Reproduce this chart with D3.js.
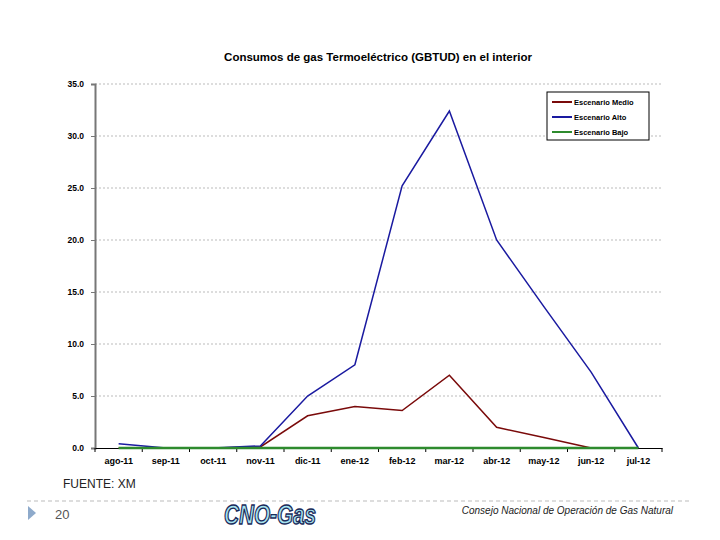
<!DOCTYPE html>
<html><head><meta charset="utf-8">
<script src="https://cdn.jsdelivr.net/npm/d3@7"></script>
<style>body{margin:0;background:#fff;}svg{display:block;}</style>
</head><body>
<svg id="c" width="720" height="540"></svg>
<script>
const categories = ["ago-11","sep-11","oct-11","nov-11","dic-11","ene-12","feb-12","mar-12","abr-12","may-12","jun-12","jul-12"];
const medio = [0, 0, 0, 0.1, 3.1, 4.0, 3.6, 7.0, 2.0, 1.0, 0, null];
const alto  = [0.4, 0, 0, 0.2, 5.0, 8.0, 25.2, 32.4, 20.0, 13.6, 7.3, 0];
const bajo  = [0, 0, 0, 0, 0, 0, 0, 0, 0, 0, 0, 0];
const yTicks = [0, 5, 10, 15, 20, 25, 30, 35];
const seriesNames = ["Escenario Medio","Escenario Alto","Escenario Bajo"];
const seriesColors = ["#7a0a0a","#1a1aa0","#2e8b2e"];

const svg = d3.select("#c");
const L = 95, R = 662, T = 84, B = 448;
const x = d3.scaleBand().domain(categories).range([L, R]);
const y = d3.scaleLinear().domain([0, 35]).range([B, T]);
const FF = "Arial, Liberation Sans, sans-serif";

// title
svg.append("text").attr("x", 378).attr("y", 61).attr("text-anchor", "middle")
  .attr("font-family", FF).attr("font-size", 11.5).attr("font-weight", "bold")
  .text("Consumos de gas Termoeléctrico (GBTUD) en el interior");

// gridlines
svg.append("g").selectAll("line").data(yTicks.filter(d => d > 0)).join("line")
  .attr("x1", L).attr("x2", R).attr("y1", d => y(d)).attr("y2", d => y(d))
  .attr("stroke", "#bbb").attr("stroke-width", 1).attr("stroke-dasharray", "2,2");

// y axis
const ya = svg.append("g").attr("transform", `translate(${L},0)`)
  .call(d3.axisLeft(y).tickValues(yTicks).tickFormat(d3.format(".1f")).tickSize(4));
ya.select(".domain").attr("stroke", "#777").attr("stroke-width", 2);
ya.selectAll(".tick line").attr("stroke", "#777");
ya.selectAll("text").attr("font-family", FF).attr("font-size", 8.5).attr("font-weight", "bold").attr("fill", "#000").attr("x", -11);

// x axis
const xa = svg.append("g").attr("transform", `translate(0,${B})`)
  .call(d3.axisBottom(x).tickSize(0).tickSizeOuter(0));
xa.select(".domain").attr("stroke", "#000");
xa.selectAll("text").attr("font-family", FF).attr("font-size", 9).attr("font-weight", "bold").attr("fill", "#000").attr("dy", "1.45em");
// boundary ticks
svg.append("g").selectAll("line").data(categories.concat(["__end"])).join("line")
  .attr("x1", (d, i) => L + i * x.step()).attr("x2", (d, i) => L + i * x.step())
  .attr("y1", B).attr("y2", B + 4).attr("stroke", "#000");

// lines
const line = d3.line().defined(d => d[1] !== null)
  .x(d => x(d[0]) + x.bandwidth() / 2).y(d => y(d[1]));
const series = [medio, alto, bajo];
const widths = [1.5, 1.5, 2.5];
[0, 1, 2].forEach(i => {
  svg.append("path").datum(categories.map((c, k) => [c, series[i][k]]))
    .attr("d", line).attr("fill", "none").attr("stroke", seriesColors[i]).attr("stroke-width", widths[i]);
});

// legend
const lg = svg.append("g");
lg.append("rect").attr("x", 547).attr("y", 92).attr("width", 102).attr("height", 48)
  .attr("fill", "#fff").attr("stroke", "#000").attr("stroke-width", 1);
seriesNames.forEach((n, i) => {
  const yy = 102 + i * 15;
  lg.append("line").attr("x1", 552).attr("x2", 572).attr("y1", yy).attr("y2", yy)
    .attr("stroke", seriesColors[i]).attr("stroke-width", 2);
  lg.append("text").attr("x", 574).attr("y", yy + 3).attr("font-family", FF)
    .attr("font-size", 7.5).attr("font-weight", "bold").text(n);
});

// footer
svg.append("text").attr("x", 63).attr("y", 488).attr("font-family", FF)
  .attr("font-size", 12).attr("fill", "#222").text("FUENTE: XM");
svg.append("line").attr("x1", 27).attr("x2", 690).attr("y1", 501).attr("y2", 501)
  .attr("stroke", "#bbb").attr("stroke-dasharray", "4,3");
svg.append("path").attr("d", "M28,506 L36,513 L28,520 Z").attr("fill", "#8eaacb");
svg.append("text").attr("x", 55).attr("y", 519).attr("font-family", FF)
  .attr("font-size", 13).attr("fill", "#555").text("20");
svg.append("text").attr("x", 270).attr("y", 524).attr("text-anchor", "middle")
  .attr("font-family", "Liberation Sans Narrow, Arial Narrow, Arial, sans-serif").attr("font-size", 27)
  .attr("font-weight", "bold").attr("font-style", "italic").attr("fill", "#a6e4f0")
  .attr("stroke", "#1a2a5a").attr("stroke-width", 1.4).attr("textLength", 92).attr("lengthAdjust", "spacingAndGlyphs")
  .text("CNO-Gas");
svg.append("text").attr("x", 673).attr("y", 514).attr("text-anchor", "end")
  .attr("font-family", FF).attr("font-size", 10).attr("font-style", "italic")
  .attr("fill", "#222").text("Consejo Nacional de Operación de Gas Natural");
</script>
</body></html>
